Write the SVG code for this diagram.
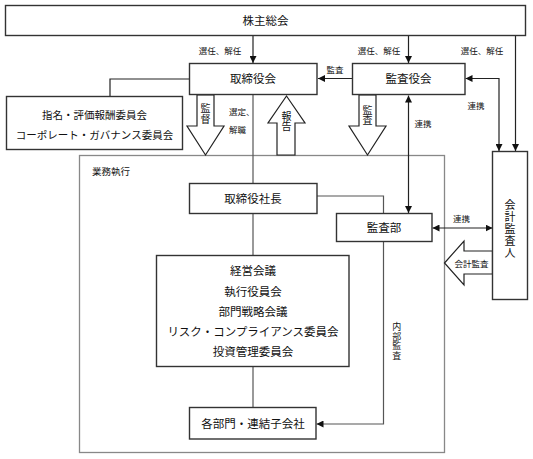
<svg xmlns="http://www.w3.org/2000/svg" width="533" height="459" viewBox="0 0 533 459">
<style>
text{font-family:"Noto Sans CJK JP","Noto Sans CJK SC",sans-serif;fill:#111;text-anchor:middle}
.box{fill:#fff;stroke:#333;stroke-width:1.4}
.frame{fill:none;stroke:#888;stroke-width:1.3}
.m{font-size:11.5px}
.s{font-size:8.5px}
.vt{writing-mode:vertical-rl;text-orientation:upright;glyph-orientation-vertical:0;font-size:10px}
.ln{fill:none;stroke:#222;stroke-width:1.2}
.gl{fill:none;stroke:#555;stroke-width:1.2}
.hol{fill:#fff;stroke:#222;stroke-width:1.2}
</style>
<defs>
<marker id="ah" viewBox="0 0 10 10" refX="10" refY="5" markerWidth="7" markerHeight="7" orient="auto-start-reverse" markerUnits="userSpaceOnUse"><path d="M0,0 L10,5 L0,10 z" fill="#111"/></marker>
</defs>
<g id="frame-gyomu"><rect class="frame" x="79.5" y="155.5" width="365" height="297"/><text x="92" y="175" style="font-size:9.5px;text-anchor:start">業務執行</text></g>
<g id="connectors">
<path class="ln" d="M253,36 V63" marker-end="url(#ah)"/>
<path class="ln" d="M408.5,36 V63" marker-end="url(#ah)"/>
<path class="ln" d="M515.5,36 V151" marker-end="url(#ah)"/>
<path class="ln" d="M352,78.5 H318" marker-end="url(#ah)"/>
<path class="ln" d="M190,79 H110 V97"/>
<path class="gl" d="M253,95 V183"/>
<path class="ln" d="M408.5,95.5 V213" marker-start="url(#ah)" marker-end="url(#ah)"/>
<path class="ln" d="M465.5,78.5 H499 V151" marker-start="url(#ah)" marker-end="url(#ah)"/>
<path class="gl" d="M317,196 H383.5 V213"/>
<path class="ln" d="M432.5,228 H492.5" marker-start="url(#ah)" marker-end="url(#ah)"/>
<path class="gl" d="M253,214 V255"/>
<path class="gl" d="M253,367 V407"/>
<path class="gl" d="M383.5,242 V424 H316.5" marker-end="url(#ah)"/>
<polygon class="hol" points="197,95 214,95 214,126 224,126 205.5,155 187,126 197,126"/>
<polygon class="hol" points="286.5,96 305,123 295,123 295,155 277,155 277,123 268,123"/>
<polygon class="hol" points="359,95 376,95 376,126 386,126 367.5,155 349,126 359,126"/>
<polygon class="hol" points="444.5,263 464,241 464,251 492.5,251 492.5,274 464,274 464,285"/>
<text class="vt" x="205.5" y="114.5" style="letter-spacing:1px">監督</text>
<text class="vt" x="286.5" y="121">報告</text>
<text class="vt" x="367.5" y="115.5" style="letter-spacing:0.7px">監査</text>
<text class="s" x="471.5" y="266.5">会計監査</text>
<text class="s" x="220" y="53.5">選任、解任</text>
<text class="s" x="379" y="53.5">選任、解任</text>
<text class="s" x="482" y="53.5">選任、解任</text>
<text class="s" x="335" y="73">監査</text>
<text class="s" x="423" y="126.5">連携</text>
<text class="s" x="476" y="109">連携</text>
<text class="s" x="461.5" y="221.5">連携</text>
<text class="s" x="229" y="115" style="text-anchor:start">選定、</text>
<text class="s" x="229" y="133" style="text-anchor:start">解職</text>
<text class="vt" x="396.7" y="341.5" style="font-size:9px;letter-spacing:0.5px">内部監査</text>
</g>
<g id="kabunushi"><rect class="box" x="5.5" y="5.5" width="520" height="30"/><text class="m" x="265.5" y="25">株主総会</text></g>
<g id="torishimariyakukai"><rect class="box" x="189.5" y="63.5" width="127.5" height="31"/><text class="m" x="253" y="83">取締役会</text></g>
<g id="kansayakukai"><rect class="box" x="352.5" y="63.5" width="112.5" height="31"/><text class="m" x="408.5" y="83">監査役会</text></g>
<g id="iinkai"><rect class="box" x="6.5" y="96.5" width="176" height="53"/><text style="font-size:10.5px" x="94.5" y="118.5">指名・評価報酬委員会</text><text style="font-size:10.5px" x="94.5" y="139">コーポレート・ガバナンス委員会</text></g>
<g id="shacho"><rect class="box" x="189.5" y="183.5" width="127.5" height="30"/><text class="m" x="253" y="202.5">取締役社長</text></g>
<g id="kansabu"><rect class="box" x="336.5" y="213.5" width="95.5" height="28"/><text class="m" x="384" y="231.5">監査部</text></g>
<g id="kaikeikansanin"><rect class="box" x="492.5" y="151.5" width="35" height="148"/><text class="vt" x="510" y="229" style="font-size:11px;letter-spacing:1px">会計監査人</text></g>
<g id="keiei"><rect class="box" x="156.5" y="255.5" width="192.5" height="111"/>
<text class="m" x="253" y="275">経営会議</text>
<text class="m" x="253" y="295.5">執行役員会</text>
<text class="m" x="253" y="315.5">部門戦略会議</text>
<text class="m" x="253" y="335.5">リスク・コンプライアンス委員会</text>
<text class="m" x="253" y="355.5">投資管理委員会</text></g>
<g id="kakubumon"><rect class="box" x="189.5" y="407.5" width="126.5" height="31.5"/><text class="m" x="253" y="428">各部門・連結子会社</text></g>
</svg>
